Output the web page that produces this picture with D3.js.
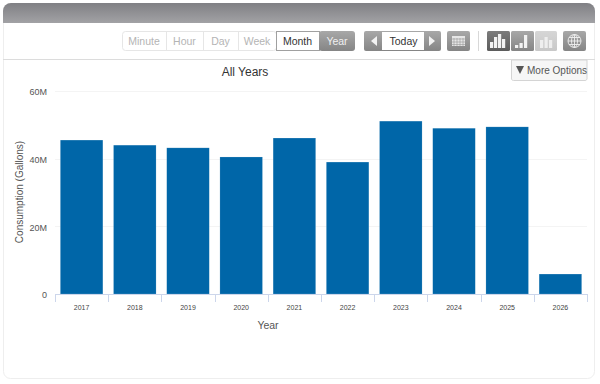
<!DOCTYPE html>
<html>
<head>
<meta charset="utf-8">
<script src="https://cdn.jsdelivr.net/npm/d3@7"></script>
<style>
html, body { margin: 0; padding: 0; background: #fff; }
svg { display: block; font-family: "Liberation Sans", Arial, sans-serif; }
</style>
</head>
<body>
<div id="chart"></div>
<script>
const years = ["2017", "2018", "2019", "2020", "2021", "2022", "2023", "2024", "2025", "2026"];
const consumption = [45.5, 44.0, 43.2, 40.5, 46.1, 39.0, 51.1, 49.0, 49.4, 5.9];
const yTicks = [0, 20, 40, 60];
const timeButtons = ["Minute", "Hour", "Day", "Week", "Month", "Year"];

const svg = d3.select("#chart").append("svg")
    .attr("width", 600)
    .attr("height", 384);

const defs = svg.append("defs");

function gradient(id, top, bottom) {
    const g = defs.append("linearGradient").attr("id", id)
        .attr("x1", 0).attr("y1", 0).attr("x2", 0).attr("y2", 1);
    g.append("stop").attr("offset", "0%").attr("stop-color", top);
    g.append("stop").attr("offset", "100%").attr("stop-color", bottom);
}
gradient("head", "#808084", "#a2a2a5");
gradient("btn", "#a8a8a8", "#858585");
gradient("btnDark", "#7c7c7c", "#5c5c5c");
gradient("btnLight", "#d6d6d6", "#c8c8c8");

// Panel and header
svg.append("rect").attr("x", 3.5).attr("y", 3.5).attr("width", 591).attr("height", 375)
    .attr("rx", 7).attr("fill", "#fff").attr("stroke", "#eeeeee");
svg.append("path")
    .attr("d", "M3,23 V11 A8,8 0 0 1 11,3 H587 A8,8 0 0 1 595,11 V23 Z")
    .attr("fill", "url(#head)");
svg.append("line").attr("x1", 3).attr("x2", 595).attr("y1", 59.5).attr("y2", 59.5)
    .attr("stroke", "#dcdcdc");

// Time range buttons
const btnX = [122, 166, 203, 238, 276, 319, 355];
svg.append("rect").attr("x", 122.5).attr("y", 31.5).attr("width", 154).attr("height", 19)
    .attr("rx", 3).attr("fill", "#fff").attr("stroke", "#e6e6e6");
timeButtons.forEach((label, i) => {
    if (i > 0 && i < 4) {
        svg.append("line").attr("x1", btnX[i] + 0.5).attr("x2", btnX[i] + 0.5)
            .attr("y1", 32).attr("y2", 50).attr("stroke", "#e6e6e6");
    }
    if (label === "Month") {
        svg.append("rect").attr("x", 276.5).attr("y", 31.5).attr("width", 43).attr("height", 19)
            .attr("fill", "#fff").attr("stroke", "#a0a0a0");
    }
    if (label === "Year") {
        svg.append("rect").attr("x", 319).attr("y", 31).attr("width", 36).attr("height", 20)
            .attr("rx", 3).attr("fill", "url(#btn)");
    }
    svg.append("text")
        .attr("x", (btnX[i] + btnX[i + 1]) / 2)
        .attr("y", 45)
        .attr("text-anchor", "middle")
        .attr("font-size", 10.5)
        .attr("fill", i < 4 ? "#b4b4b4" : (label === "Year" ? "#f0f0f0" : "#333"))
        .text(label);
});

// Today control
svg.append("rect").attr("x", 364).attr("y", 31).attr("width", 77).attr("height", 20)
    .attr("rx", 2).attr("fill", "url(#btn)");
svg.append("rect").attr("x", 382).attr("y", 32).attr("width", 42).attr("height", 18).attr("fill", "#fff");
svg.append("text").attr("x", 403.5).attr("y", 45).attr("text-anchor", "middle")
    .attr("font-size", 10.5).attr("fill", "#333").text("Today");
svg.append("path").attr("d", "M377,36 L371,41 L377,46 Z").attr("fill", "#f2f2f2");
svg.append("path").attr("d", "M429,36 L435,41 L429,46 Z").attr("fill", "#f2f2f2");

// Calendar button
svg.append("rect").attr("x", 447).attr("y", 31).attr("width", 23).attr("height", 20)
    .attr("rx", 2).attr("fill", "url(#btn)");
svg.append("rect").attr("x", 452).attr("y", 36).attr("width", 13).attr("height", 10).attr("fill", "#e6e6e6");
[454, 457, 460, 463].forEach(x => svg.append("line").attr("x1", x).attr("x2", x).attr("y1", 38).attr("y2", 46).attr("stroke", "#999").attr("stroke-width", 0.6));
[39, 42, 44.5].forEach(y => svg.append("line").attr("x1", 452).attr("x2", 465).attr("y1", y).attr("y2", y).attr("stroke", "#999").attr("stroke-width", 0.6));

svg.append("line").attr("x1", 478.5).attr("x2", 478.5).attr("y1", 31).attr("y2", 51).attr("stroke", "#d8d8d8");

// Chart type buttons
function chartBtn(x, w, fill, rects, col) {
    svg.append("rect").attr("x", x).attr("y", 31).attr("width", w).attr("height", 20)
        .attr("rx", 1.5).attr("fill", fill);
    rects.forEach(r => svg.append("rect")
        .attr("x", x + r[0]).attr("y", 48 - r[1]).attr("width", 3.2).attr("height", r[1]).attr("fill", col));
}
chartBtn(487, 23, "url(#btnDark)", [[3, 6], [7, 11], [11, 14], [15, 9]], "#f2f2f2");
chartBtn(511, 23, "url(#btn)", [[4, 3], [8.5, 5], [13, 13]], "#f2f2f2");
chartBtn(535, 22, "url(#btnLight)", [[5, 8], [9.5, 11], [14, 8]], "#eeeeee");

// Globe button
svg.append("rect").attr("x", 563).attr("y", 31).attr("width", 23).attr("height", 20)
    .attr("rx", 2).attr("fill", "url(#btn)");
const globe = svg.append("g").attr("fill", "none").attr("stroke", "#efefef").attr("stroke-width", 0.9);
globe.append("circle").attr("cx", 574.5).attr("cy", 41).attr("r", 6.5);
globe.append("ellipse").attr("cx", 574.5).attr("cy", 41).attr("rx", 3).attr("ry", 6.5);
globe.append("line").attr("x1", 568).attr("x2", 581).attr("y1", 41).attr("y2", 41);
globe.append("line").attr("x1", 574.5).attr("x2", 574.5).attr("y1", 34.5).attr("y2", 47.5);
globe.append("line").attr("x1", 569).attr("x2", 580).attr("y1", 37.5).attr("y2", 37.5);
globe.append("line").attr("x1", 569).attr("x2", 580).attr("y1", 44.5).attr("y2", 44.5);

// Plot
const margin = {left: 55, right: 13, top: 91, bottom: 90};
const x = d3.scaleBand().domain(years).range([margin.left, 600 - margin.right]).paddingInner(0.2).paddingOuter(0.1);
const y = d3.scaleLinear().domain([0, 60]).range([384 - margin.bottom, margin.top]);

// Gridlines
svg.append("g").selectAll("line").data(yTicks.slice(1)).enter().append("line")
    .attr("x1", margin.left).attr("x2", 600 - margin.right)
    .attr("y1", d => Math.round(y(d)) + 0.5).attr("y2", d => Math.round(y(d)) + 0.5)
    .attr("stroke", "#f4f4f4");

// Y axis labels
const yAxis = svg.append("g")
    .attr("transform", `translate(${margin.left},1)`)
    .call(d3.axisLeft(y).tickValues(yTicks).tickSize(0).tickPadding(8).tickFormat(d => d === 0 ? "0" : d + "M"));
yAxis.select(".domain").remove();
yAxis.selectAll("text").attr("font-size", 9).attr("font-family", "Liberation Sans, sans-serif").attr("fill", "#555");

svg.append("text")
    .attr("transform", "translate(23,192) rotate(-90)")
    .attr("text-anchor", "middle")
    .attr("font-size", 10)
    .attr("fill", "#555")
    .text("Consumption (Gallons)");

// Bars
svg.selectAll(".bar")
    .data(years)
    .enter()
    .append("rect")
    .attr("class", "bar")
    .attr("x", d => x(d))
    .attr("y", (d, i) => y(consumption[i]))
    .attr("width", x.bandwidth())
    .attr("height", (d, i) => y(0) - y(consumption[i]))
    .attr("fill", "#0066a8")
    .attr("stroke", "#ffffff")
    .attr("stroke-opacity", 0.3)
    .attr("stroke-width", 0.5);

// X axis with ticks between the years
const step = x.step();
const xAxisBase = y(0);
svg.append("line").attr("x1", margin.left).attr("x2", 600 - margin.right)
    .attr("y1", xAxisBase + 0.5).attr("y2", xAxisBase + 0.5).attr("stroke", "#ccd6eb");
svg.append("g").selectAll("line").data(d3.range(years.length + 1)).enter().append("line")
    .attr("x1", i => Math.round(margin.left + i * step) + 0.5)
    .attr("x2", i => Math.round(margin.left + i * step) + 0.5)
    .attr("y1", xAxisBase).attr("y2", xAxisBase + 8)
    .attr("stroke", "#ccd6eb");
svg.append("g").selectAll("text").data(years).enter().append("text")
    .attr("x", d => x(d) + x.bandwidth() / 2)
    .attr("y", 310)
    .attr("text-anchor", "middle")
    .attr("font-size", 7)
    .attr("fill", "#444")
    .text(d => d);

svg.append("text").attr("x", 268).attr("y", 329).attr("text-anchor", "middle")
    .attr("font-size", 10.5).attr("fill", "#555").text("Year");

// Title
svg.append("text").attr("x", 245).attr("y", 76).attr("text-anchor", "middle")
    .attr("font-size", 12).attr("fill", "#333").text("All Years");

// More options
svg.append("path")
    .attr("d", "M511.5,60 V78 A2,2 0 0 0 513.5,80.5 H585 A2,2 0 0 0 587,78 V60 Z")
    .attr("fill", "#f6f6f6").attr("stroke", "#d4d4d4");
svg.append("path").attr("d", "M516,66 H524 L520,74 Z").attr("fill", "#555");
svg.append("text").attr("x", 527).attr("y", 74).attr("font-size", 10).attr("fill", "#555").text("More Options");
</script>
</body>
</html>
